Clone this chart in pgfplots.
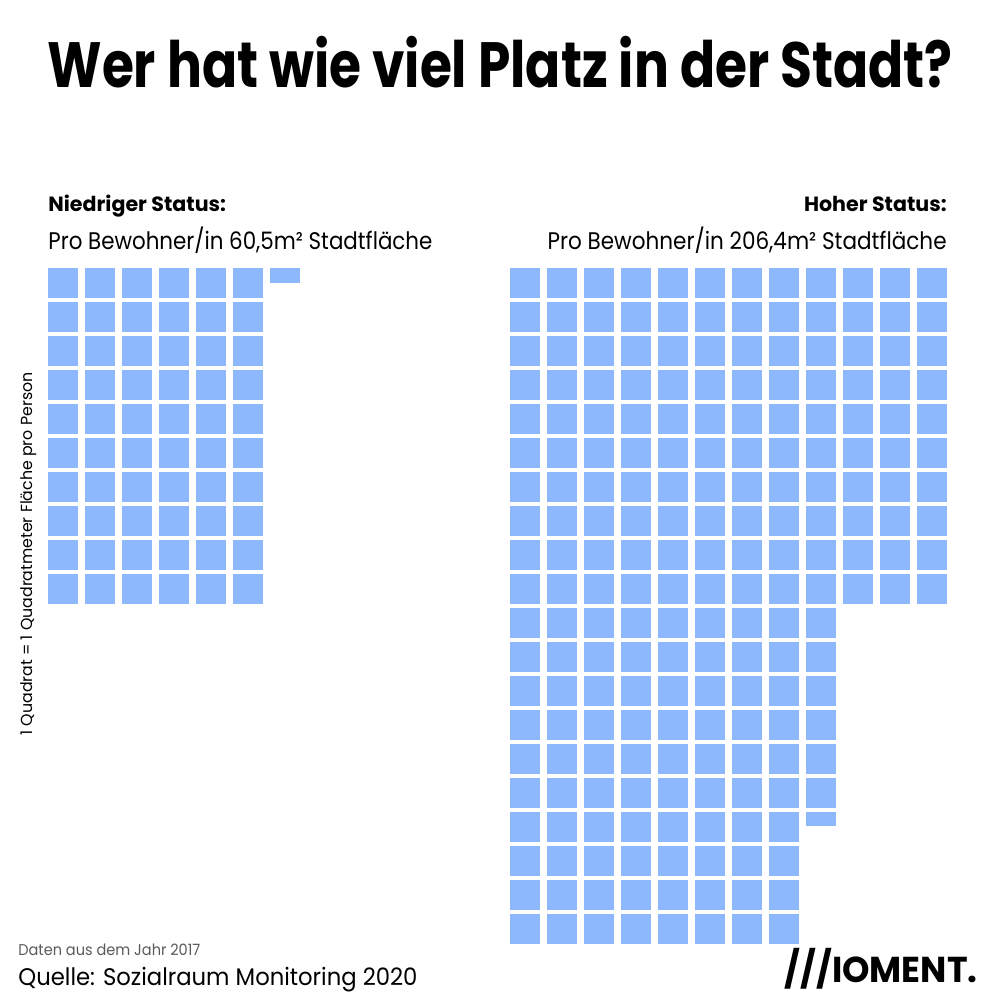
\documentclass[border=0pt]{standalone}
\usepackage{pgfplots}
\pgfplotsset{compat=1.18}
\usepackage{graphicx}
\usepackage{fontspec}
\setmainfont{Poppins}
\definecolor{wblue}{RGB}{142,184,253}
\definecolor{wgray}{RGB}{90,90,90}
\newcommand{\fitw}[2]{\resizebox{#1}{\height}{#2}}
\pgfdeclareplotmark{wsq}{\pgfpathrectangle{\pgfqpoint{-7.5pt}{-7.5pt}}{\pgfqpoint{15pt}{15pt}}\pgfusepathqfill}
\pgfdeclareplotmark{whalf}{\pgfpathrectangle{\pgfqpoint{-7.5pt}{0pt}}{\pgfqpoint{15pt}{7.5pt}}\pgfusepathqfill}
\pgfdeclareplotmark{wpart}{\pgfpathrectangle{\pgfqpoint{-7.5pt}{0.5pt}}{\pgfqpoint{15pt}{7pt}}\pgfusepathqfill}
\begin{document}
\begin{tikzpicture}
\path[use as bounding box] (0,0) rectangle (500pt,500pt);
% texts
\node[anchor=base, inner sep=0pt] at (250pt,456pt) {\fitw{452.5pt}{\fontsize{32}{36}\selectfont\bfseries Wer hat wie viel Platz in der Stadt?}};
\node[anchor=base west, inner sep=0pt] at (24pt,394pt) {\fontsize{10.3}{12}\selectfont\bfseries Niedriger Status:};
\node[anchor=base west, inner sep=0pt] at (24pt,375pt) {\fitw{192pt}{\fontsize{12}{14}\selectfont Pro Bewohner/in 60,5m² Stadtfläche}};
\node[anchor=base east, inner sep=0pt] at (473.5pt,394pt) {\fontsize{10.3}{12}\selectfont\bfseries Hoher Status:};
\node[anchor=base east, inner sep=0pt] at (473.5pt,375pt) {\fitw{199.5pt}{\fontsize{12}{14}\selectfont Pro Bewohner/in 206,4m² Stadtfläche}};
\node[rotate=90, inner sep=0pt] at (14.5pt,223pt) {\fitw{181.5pt}{\fontsize{8}{10}\selectfont 1 Quadrat = 1 Quadratmeter Fläche pro Person}};
\node[anchor=base west, inner sep=0pt, text=wgray] at (9pt,22pt) {\fitw{91pt}{\fontsize{7.8}{9}\selectfont Daten aus dem Jahr 2017}};
\node[anchor=base west, inner sep=0pt] at (9pt,7pt) {\fitw{199.5pt}{\fontsize{12}{14}\selectfont Quelle: Sozialraum Monitoring 2020}};
\node[anchor=base east, inner sep=0pt] at (489pt,8.5pt) {\fitw{96.5pt}{\fontsize{18}{20}\selectfont\bfseries ///IOMENT.}};
% left waffle: 60.5
\begin{axis}[at={(22.25pt,367pt)}, anchor=north west, x=18.5pt, y=17pt, y dir=reverse,
  xmin=0.5, xmax=7.5, ymin=0.5, ymax=10.5, hide axis, clip=false]
\addplot[only marks, mark=wsq, color=wblue] coordinates {
(1,1)(2,1)(3,1)(4,1)(5,1)(6,1)
(1,2)(2,2)(3,2)(4,2)(5,2)(6,2)
(1,3)(2,3)(3,3)(4,3)(5,3)(6,3)
(1,4)(2,4)(3,4)(4,4)(5,4)(6,4)
(1,5)(2,5)(3,5)(4,5)(5,5)(6,5)
(1,6)(2,6)(3,6)(4,6)(5,6)(6,6)
(1,7)(2,7)(3,7)(4,7)(5,7)(6,7)
(1,8)(2,8)(3,8)(4,8)(5,8)(6,8)
(1,9)(2,9)(3,9)(4,9)(5,9)(6,9)
(1,10)(2,10)(3,10)(4,10)(5,10)(6,10)
};
\addplot[only marks, mark=whalf, color=wblue] coordinates {(7,1)};
\end{axis}
% right waffle: 206.4
\begin{axis}[at={(253.25pt,367pt)}, anchor=north west, x=18.5pt, y=17pt, y dir=reverse,
  xmin=0.5, xmax=12.5, ymin=0.5, ymax=20.5, hide axis, clip=false]
\addplot[only marks, mark=wsq, color=wblue] coordinates {
(1,1)(2,1)(3,1)(4,1)(5,1)(6,1)(7,1)(8,1)(9,1)(10,1)(11,1)(12,1)
(1,2)(2,2)(3,2)(4,2)(5,2)(6,2)(7,2)(8,2)(9,2)(10,2)(11,2)(12,2)
(1,3)(2,3)(3,3)(4,3)(5,3)(6,3)(7,3)(8,3)(9,3)(10,3)(11,3)(12,3)
(1,4)(2,4)(3,4)(4,4)(5,4)(6,4)(7,4)(8,4)(9,4)(10,4)(11,4)(12,4)
(1,5)(2,5)(3,5)(4,5)(5,5)(6,5)(7,5)(8,5)(9,5)(10,5)(11,5)(12,5)
(1,6)(2,6)(3,6)(4,6)(5,6)(6,6)(7,6)(8,6)(9,6)(10,6)(11,6)(12,6)
(1,7)(2,7)(3,7)(4,7)(5,7)(6,7)(7,7)(8,7)(9,7)(10,7)(11,7)(12,7)
(1,8)(2,8)(3,8)(4,8)(5,8)(6,8)(7,8)(8,8)(9,8)(10,8)(11,8)(12,8)
(1,9)(2,9)(3,9)(4,9)(5,9)(6,9)(7,9)(8,9)(9,9)(10,9)(11,9)(12,9)
(1,10)(2,10)(3,10)(4,10)(5,10)(6,10)(7,10)(8,10)(9,10)(10,10)(11,10)(12,10)
(1,11)(2,11)(3,11)(4,11)(5,11)(6,11)(7,11)(8,11)(9,11)
(1,12)(2,12)(3,12)(4,12)(5,12)(6,12)(7,12)(8,12)(9,12)
(1,13)(2,13)(3,13)(4,13)(5,13)(6,13)(7,13)(8,13)(9,13)
(1,14)(2,14)(3,14)(4,14)(5,14)(6,14)(7,14)(8,14)(9,14)
(1,15)(2,15)(3,15)(4,15)(5,15)(6,15)(7,15)(8,15)(9,15)
(1,16)(2,16)(3,16)(4,16)(5,16)(6,16)(7,16)(8,16)(9,16)
(1,17)(2,17)(3,17)(4,17)(5,17)(6,17)(7,17)(8,17)
(1,18)(2,18)(3,18)(4,18)(5,18)(6,18)(7,18)(8,18)
(1,19)(2,19)(3,19)(4,19)(5,19)(6,19)(7,19)(8,19)
(1,20)(2,20)(3,20)(4,20)(5,20)(6,20)(7,20)(8,20)
};
\addplot[only marks, mark=wpart, color=wblue] coordinates {(9,17)};
\end{axis}
\end{tikzpicture}
\end{document}
